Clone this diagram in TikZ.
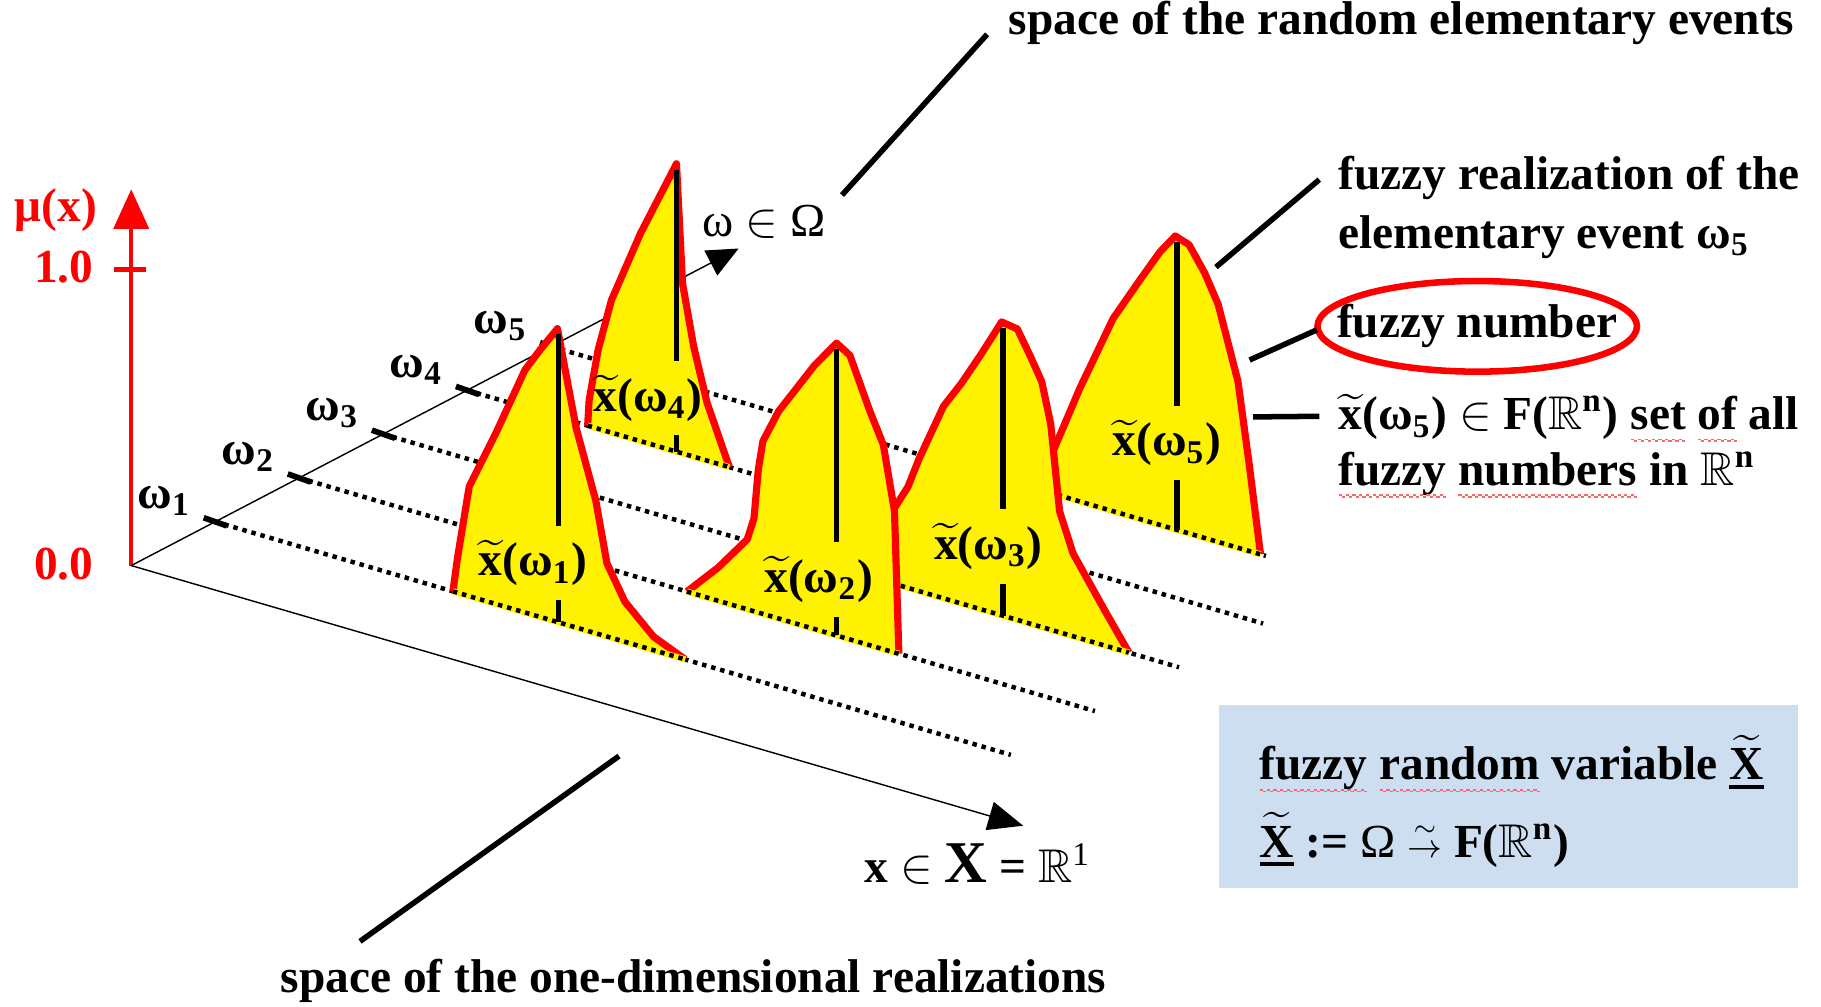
\documentclass[tikz,border=0pt]{standalone}
\usepackage{fontspec}
\setmainfont{Liberation Serif}
\usepackage{amsmath,amssymb}
\usetikzlibrary{arrows.meta,calc}
\definecolor{boxblue}{RGB}{205,222,240}
\newsavebox\spellbox
\newcommand{\spell}[1]{\leavevmode\sbox\spellbox{#1}\rlap{\usebox\spellbox}\textcolor{red!60}{\hbox to \wd\spellbox{\xleaders\hbox to 1.6pt{\rule[-2.6pt]{0.8pt}{0.4pt}\rule[-3pt]{0.8pt}{0.4pt}}\hfil}}}
\newcommand{\RR}{$\mathbb{R}$}
\newcommand{\xt}{$\widetilde{\text{x}}$}
\newcommand{\xw}[1]{\xt(ω\textsubscript{#1})}
\newcommand{\fX}{\leavevmode\vtop{\hbox{$\widetilde{\text{X}}$}\kern1.2pt\hrule height 1pt}}
\newcommand{\farrow}{$\mathrel{\overset{\scriptscriptstyle\sim}{\scriptstyle\rightarrow}}$}
\newcommand{\lblfont}{\fontsize{11.6}{14}\selectfont\bfseries}
\newcommand{\plainfont}{\fontsize{11.6}{14}\selectfont\mdseries}

\begin{document}
\begin{tikzpicture}[x=0.01cm,y=-0.01cm,
  every node/.style={font=\lblfont,inner sep=0pt},
  thinaxis/.style={line width=0.35pt,-{Triangle[length=2.7mm,width=2.4mm]}},
  muaxis/.style={red,line width=1pt,-{Triangle[length=3.4mm,width=3mm]}},
  realline/.style={line width=1.1pt,dash pattern=on 1.1pt off 1.2pt},
  wtick/.style={line width=1.4pt},
  fuzzy/.style={fill=yellow,draw=red,line width=1.75pt,line join=round},
  cover/.style={yellow,line width=1.5pt},
  stem/.style={line width=1.4pt},
  leader/.style={line width=1.35pt},
  xlab/.style={outer ysep=3.5pt}]

  \useasboundingbox (0,0) rectangle (1568,867);

  \coordinate (O) at (113,487);
  \coordinate (mutip) at (113,163);
  \coordinate (omtip) at (636,214);
  \coordinate (xtip) at (881,711);
  \draw[muaxis] (O) -- (mutip);
  \draw[red,line width=1.4pt] (98,232) -- (126,232);
  \node[red] (mu) at (48,181) {μ(x)};
  \foreach \y/\lab in {230/1.0, 486/0.0}
    \node[red] at (55,\y) {\lab};
  \draw[thinaxis] (O) -- (omtip);
  \draw[thinaxis,-{Triangle[length=3mm,width=2.5mm]}] (O) -- (xtip);
  \node[font=\plainfont] (omlab) at (658,191) {ω $\in$ Ω};
  \node (xlab) at (842,744) {x $\in$ {\fontsize{14.5}{14}\selectfont X} = \RR{\mdseries\textsuperscript{1}}};

  \foreach \k/\len in {1/685,2/685,3/685,4/685,5/615} {
    \coordinate (w\k) at ({113+72.4*\k},{487-37.7*\k});
    \draw[realline] (w\k) -- ++(\len,{0.293*\len});
    \draw[wtick] (w\k) ++(-10,-3.5) -- ++(20,7);
    \node (wl\k) at ($(w\k)+(-44,-18)$) {ω\textsubscript{\k}};
  }

  % omega 5
  \coordinate (a5) at (895,421.6);
  \coordinate (b5) at (1085.4,477.3);
  \coordinate (p5) at (1012,203.2);
  \coordinate (q5) at (1013.5,456.3);
  \filldraw[fuzzy] (a5) -- (906.6,389) -- (929.7,334.6) -- (958.5,274.2) -- (981.6,241) -- (998.9,216.8) -- (p5) -- (1023.9,210.8) -- (1037.3,235) -- (1048.9,262) -- (1066,328.6) -- (1075.8,401) -- (b5);
  \draw[cover] (a5) -- (b5);
  \draw[realline] (a5) -- (b5);
  \node[xlab] (x5) at (1004.7,381.4) {\xw{5}};
  \draw[stem] (q5 |- p5) ++(0,5) -- (q5 |- x5.north);
  \draw[stem] (q5 |- x5.south) -- (q5);

  % omega 4
  \coordinate (a4) at (506,366.5);
  \coordinate (b4) at (628,402.2);
  \coordinate (p4) at (582.5,141);
  \coordinate (q4) at (582.5,388.9);
  \filldraw[fuzzy] (a4) -- (507.3,344.5) -- (515,301.4) -- (526.5,258.4) -- (551.5,201) -- (p4) -- (587.7,244) -- (597.3,298.4) -- (608.8,346.7) -- (b4);
  \draw[cover] (a4) -- (b4);
  \draw[realline] (a4) -- (b4);
  \node[xlab] (x4) at (558,343) {\xw{4}};
  \draw[stem] (q4 |- p4) ++(0,5) -- (q4 |- x4.north);
  \draw[stem] (q4 |- x4.south) -- (q4);

  % omega 3
  \coordinate (a3) at (760,499.8);
  \coordinate (b3) at (972,561.9);
  \coordinate (p3) at (862.5,277.2);
  \coordinate (q3) at (863.6,530.2);
  \filldraw[fuzzy] (a3) -- (768.3,440.4) -- (781.8,419.2) -- (791.4,395) -- (812.5,349.7) -- (827.9,330) -- (845.2,304.4) -- (p3) -- (876,283.3) -- (887.5,307.4) -- (897,328.6) -- (904.7,364.8) -- (912.4,440.4) -- (924,476.6) -- (950.9,525) -- (b3);
  \draw[cover] (a3) -- (b3);
  \draw[realline] (a3) -- (b3);
  \node[xlab] (x3) at (851,470.6) {\xw{3}};
  \draw[stem] (q3 |- p3) ++(0,5) -- (q3 |- x3.north);
  \draw[stem] (q3 |- x3.south) -- (q3);

  % omega 2
  \coordinate (a2) at (591.5,509.4);
  \coordinate (b2) at (774,562.9);
  \coordinate (p2) at (720.3,295.4);
  \coordinate (q2) at (720.3,547.1);
  \filldraw[fuzzy] (a2) -- (618.4,488.7) -- (643.4,464.5) -- (649.2,446.4) -- (653,404) -- (656.9,380) -- (670.3,354.3) -- (701,315) -- (p2) -- (731.8,306) -- (749,354) -- (760.6,383) -- (770.2,440) -- (b2);
  \draw[cover] (a2) -- (b2);
  \draw[realline] (a2) -- (b2);
  \node[xlab] (x2) at (705,499) {\xw{2}};
  \draw[stem] (q2 |- p2) ++(0,5) -- (q2 |- x2.north);
  \draw[stem] (q2 |- x2.south) -- (q2);

  % omega 1
  \coordinate (a1) at (390,509.2);
  \coordinate (b1) at (590,567.8);
  \coordinate (p1) at (480,283);
  \coordinate (q1) at (481,535.9);
  \filldraw[fuzzy] (a1) -- (394,480) -- (404,419) -- (427,373) -- (452,318.6) -- (465,301.4) -- (p1) -- (496,368) -- (513,431) -- (522.6,485) -- (538,518) -- (562.7,548.2) -- (b1);
  \draw[cover] (a1) -- (b1);
  \draw[realline] (a1) -- (b1);
  \node[xlab] (x1) at (459,485) {\xw{1}};
  \draw[stem] (q1 |- p1) ++(0,5) -- (q1 |- x1.north);
  \draw[stem] (q1 |- x1.south) -- (q1);

  % labels
  \coordinate (evfoot) at (725,168);
  \coordinate (rzfoot) at (1047,230);
  \coordinate (fnumfoot) at (1076,310);
  \coordinate (fsfoot) at (1079,359);
  \coordinate (rlfoot) at (533,651);

  \node[anchor=base west] (evspace) at (868,30) {space of the random elementary events};
  \draw[leader] (evspace.west) ++(-18,9.5) -- (evfoot);

  \node[anchor=base west] (rz1) at (1152,163.6) {fuzzy realization of the};
  \node[anchor=base west] (rz2) at (1152,213.6) {elementary event ω\textsubscript{5}};
  \draw[leader] (rz1.west) ++(-16,1) -- (rzfoot);

  \node (fnum) at (1272,281) {fuzzy number};
  \draw[red,line width=1.6pt] (fnum.center) ellipse [x radius=1.375cm, y radius=0.39cm];
  \draw[leader] (fnum.center) ++(-138,3) -- (fnumfoot);

  \node[anchor=base west] (fs1) at (1152,370) {\xw{5} $\in$ F(\RR\textsuperscript{n}) \spell{set} \spell{of} all};
  \node[anchor=base west] (fs2) at (1152,418) {\spell{fuzzy} \spell{numbers} in \RR\textsuperscript{n}};
  \draw[leader] (fs1.west) ++(-16,-1.5) -- (fsfoot);

  \node[anchor=base west] (rlspace) at (241,855) {space of the one-dimensional realizations};
  \draw[leader] (rlspace.north west) ++(69,-15) -- (rlfoot);

  \node[fill=boxblue,minimum width=4.98cm,minimum height=1.58cm] (frv) at (1299,686) {};
  \node[anchor=base west] (frv1) at (1084,671.6) {\spell{fuzzy} \spell{random} variable \fX};
  \node[anchor=base west] (frv2) at (1084,738) {\fX{} := {\mdseries Ω} \farrow{} F(\RR\textsuperscript{n})};
\end{tikzpicture}
\end{document}
